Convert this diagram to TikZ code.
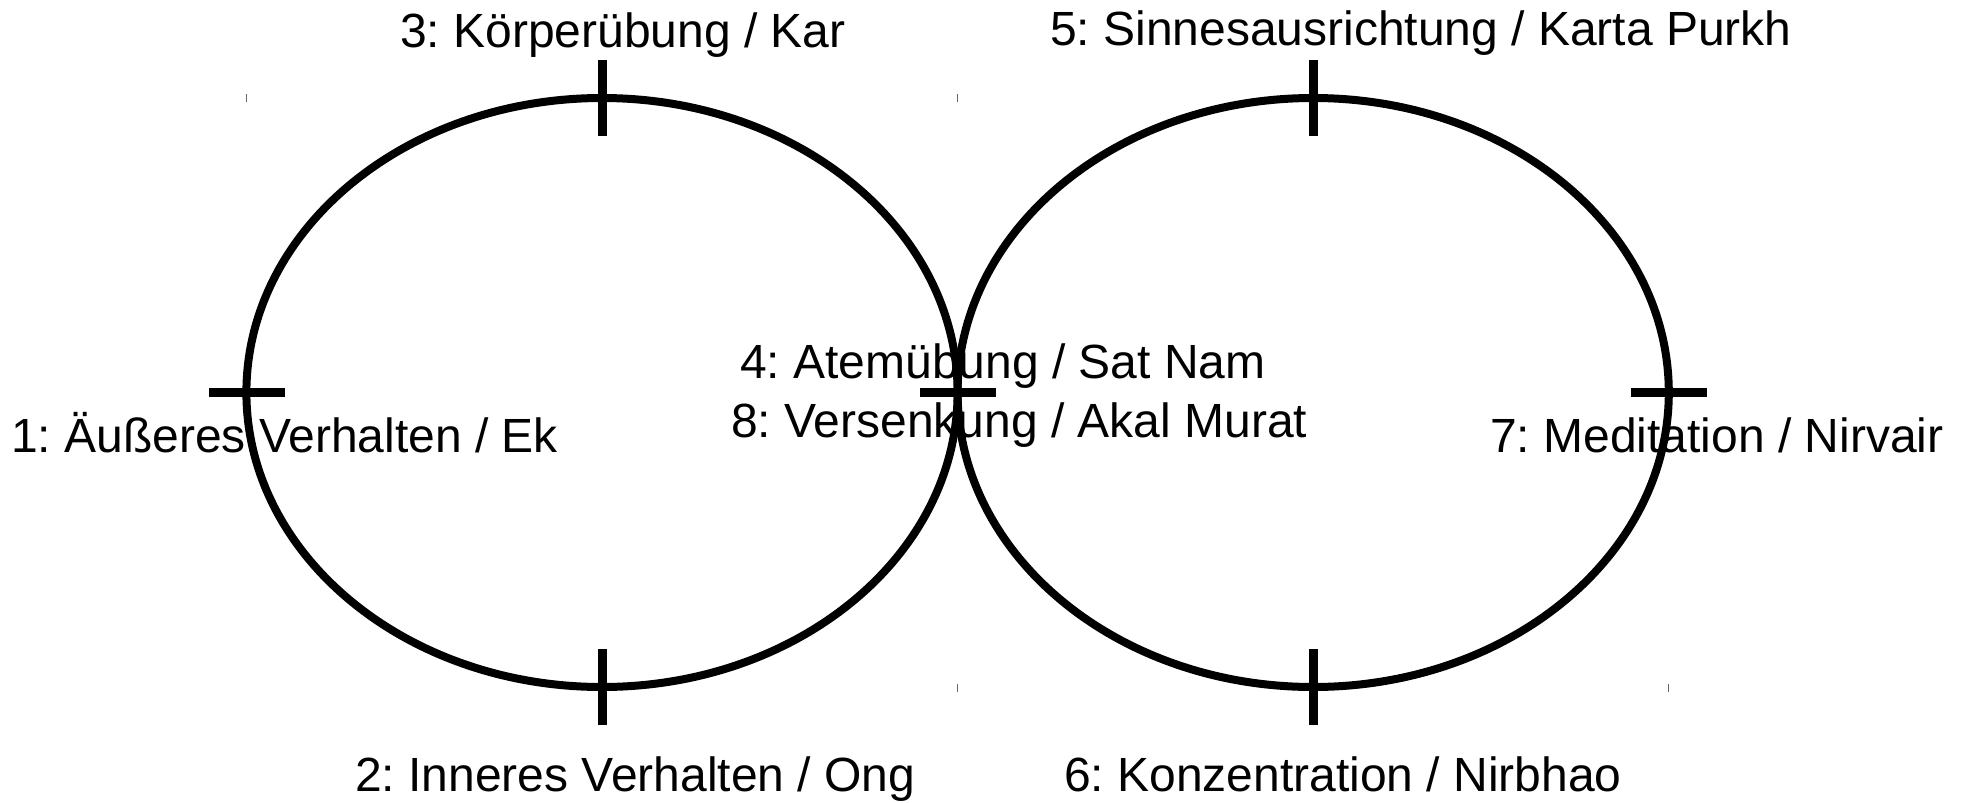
\documentclass[tikz,border=0pt]{standalone}
\usepackage{fontspec}
\setmainfont{Liberation Sans}
\frenchspacing
\begin{document}
\begin{tikzpicture}[x=1pt,y=-1pt,
  ring/.style={draw=black,line width=8pt},
  tick/.style={draw=black,line width=9pt},
  cornermark/.style={draw=black!60,line width=1.5pt},
  lbl/.style={inner sep=0pt,outer sep=0pt,anchor=base west,font=\frenchspacing\fontsize{48pt}{56pt}\selectfont}]
\useasboundingbox (0,0) rectangle (1962,803);
\fill[white] (0,0) rectangle (1962,803);
% faint corner marks
\draw[cornermark] (246.5,94) -- (246.5,102);
\draw[cornermark] (957.7,94) -- (957.7,102);
\draw[cornermark] (957.7,684) -- (957.7,692);
\draw[cornermark] (1668.7,684) -- (1668.7,692);
% ellipses
\coordinate (cl) at (602,392.5);
\coordinate (cr) at (1313.2,392.5);
\draw[ring] (cl) ellipse [x radius=355.6pt, y radius=294.5pt];
\draw[ring] (cr) ellipse [x radius=355.6pt, y radius=294.5pt];
% ticks
\draw[tick] (602,60) -- (602,136);
\draw[tick] (602,649) -- (602,725);
\draw[tick] (1313.2,60) -- (1313.2,136);
\draw[tick] (1313.2,649) -- (1313.2,725);
\draw[tick] (208.5,392) -- (284.5,392);
\draw[tick] (919.7,392) -- (995.7,392);
\draw[tick] (1630.7,392) -- (1706.7,392);
% labels
\node[lbl] (t1) at (11,452) {1: Äußeres Verhalten / Ek};
\node[lbl] (t2) at (355,791) {2: Inneres Verhalten / Ong};
\node[lbl] (t3) at (400,47) {3: Körperübung / Kar};
\node[lbl] (t4) at (740,378) {4: Atemübung / Sat Nam};
\node[lbl] (t5) at (1050,45) {5: Sinnesausrichtung / Karta Purkh};
\node[lbl] (t6) at (1064,791) {6: Konzentration / Nirbhao};
\node[lbl] (t7) at (1490,452) {7: Meditation / Nirvair};
\node[lbl] (t8) at (731,437) {8: Versenkung / Akal Murat};
\end{tikzpicture}
\end{document}
